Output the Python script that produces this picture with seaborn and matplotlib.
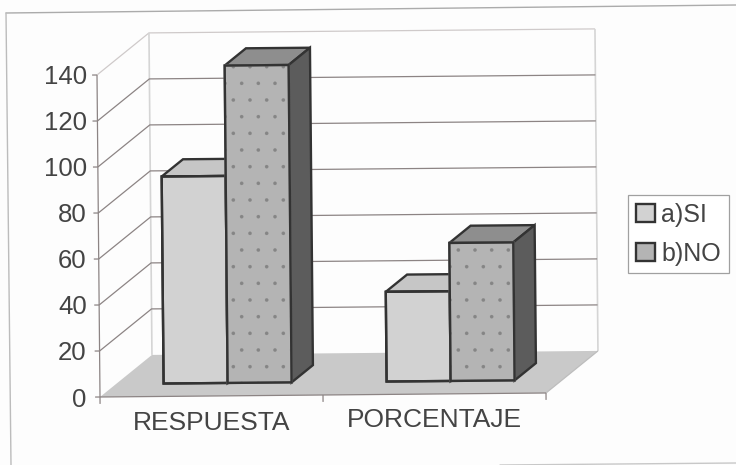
import matplotlib
matplotlib.use("Agg")
import matplotlib.pyplot as plt
import pandas as pd
import seaborn as sns
from matplotlib.lines import Line2D
from matplotlib.patches import Polygon
from matplotlib.transforms import Affine2D

# values
categories = ["RESPUESTA", "PORCENTAJE"]
series_names = ["a)SI", "b)NO"]
si_values = [90, 39]
no_values = [138, 60]
y_ticks = [0, 20, 40, 60, 80, 100, 120, 140]

front_colors = ["#d2d2d2", "#b4b4b4"]
top_colors = ["#c6c6c6", "#8e8e8e"]
side_color = "#5c5c5c"
bar_edge = "#333333"
line_grey = "#8c8484"
text_grey = "#444444"

W, H = 736, 465

sns.set_theme(style="white")
plt.rcParams["font.family"] = ["Liberation Sans", "DejaVu Sans"]
plt.rcParams["hatch.linewidth"] = 0.15

df = pd.DataFrame({
    "cat": categories * 2,
    "serie": [series_names[0]] * 2 + [series_names[1]] * 2,
    "valor": si_values + no_values,
})

fig = plt.figure(figsize=(W / 100, H / 100), dpi=100, facecolor="#fdfdfd")
ax = fig.add_axes([100 / W, 1 - 397 / H, 446 / W, 322 / H])
ax.patch.set_visible(False)

sns.barplot(data=df, x="cat", y="valor", hue="serie", palette=front_colors,
            width=0.574, gap=0, edgecolor=bar_edge, linewidth=1.7, ax=ax)
ax.set_xlim(-0.5, 1.5)
ax.set_ylim(0, 140)

# legend first, so its swatches stay plain when the bars get their dots
leg = ax.legend(loc="upper left", bbox_to_anchor=(628 / W, 1 - 195 / H),
                bbox_transform=fig.transFigure, borderaxespad=0, fancybox=False,
                framealpha=1, edgecolor="#a0a0a0", fontsize=18, labelcolor=text_grey,
                handlelength=0.76, handleheight=0.72, handletextpad=0.28, labelspacing=0.6,
                borderpad=0.3)
leg.set_zorder(20)
leg.get_frame().set_linewidth(0.9)

# fake 3D: depth moves a point back and up, tilt and rot are the crooked scan
DX, DY = 0.233, 18.3
TILT = 0.87
ROT = -0.0000961
BAR_D0, BAR_D1 = 0.31, 0.72


def project(x, y, d):
    return (x + DX * d + ROT * y, y + DY * d + TILT * (x + 0.5))


def face(points, color, z, edge="none", lw=0.0):
    ax.add_patch(Polygon([project(*p) for p in points], closed=True, facecolor=color,
                         edgecolor=edge, linewidth=lw, zorder=z, clip_on=False))


def line(points, z=2, color=line_grey, lw=0.9):
    pts = [project(*p) for p in points]
    ax.plot([p[0] for p in pts], [p[1] for p in pts], color=color, lw=lw,
            zorder=z, clip_on=False, solid_capstyle="butt")


x0, x1 = -0.5, 1.5
top = y_ticks[-1]

# walls and floor
face([(x0, 0, 0), (x1, 0, 0), (x1, 0, 1), (x0, 0, 1)], "#c9c9c9", 1)
line([(x0, top, 0), (x0, top, 1), (x1, top, 1)], color="#cfcaca")
line([(x0, 0, 1), (x0, top, 1)], color="#d5d5d5", lw=1.2)
line([(x1, 0, 1), (x1, top, 1)], color="#d5d5d5", lw=1.2)
line([(x1, 0, 1), (x1, 0, 0)], color="#bdbdbd")
for v in y_ticks[:-1]:
    if v > 0:
        line([(x0, v, 0), (x0, v, 1), (x1, v, 1)])
line([(x0, 0, 0), (x1, 0, 0)], z=3)
line([(x0, 0, 0), (x0, top, 0)], z=3)
for t in [-0.5, 0.5, 1.5]:
    line([(t, 0, 0), (t, -3, 0)], z=3)
for v in y_ticks:
    line([(x0, v, 0), (x0 - 0.022, v, 0)], z=3)

# bars: move the seaborn rectangles into their plane, then add top and side
shift = Affine2D.from_values(1, TILT, ROT, 1, DX * BAR_D0, DY * BAR_D0 + TILT * 0.5)
for serie, container in enumerate(ax.containers):
    for i, bar in enumerate(container):
        z = 5 + serie * 3 + i * 0.1
        xa, xb = bar.get_x(), bar.get_x() + bar.get_width()
        h = bar.get_height()
        bar.set_transform(shift + ax.transData)
        bar.set_clip_on(False)
        bar.set_zorder(z + 2)
        if serie == 1:
            # hatch takes the edge colour, so the dark outline goes on top
            bar.set_hatch(".")
            bar.set_edgecolor("#858585")
        face([(xa, h, BAR_D0), (xb, h, BAR_D0), (xb, h, BAR_D1), (xa, h, BAR_D1)],
             top_colors[serie], z, bar_edge, 1.7)
        face([(xb, 0, BAR_D0), (xb, h, BAR_D0), (xb, h, BAR_D1), (xb, 0, BAR_D1)],
             side_color, z + 1, bar_edge, 1.7)
        face([(xa, 0, BAR_D0), (xb, 0, BAR_D0), (xb, h, BAR_D0), (xa, h, BAR_D0)],
             "none", z + 2.05, bar_edge, 1.7)

# axes text
ax.set_xlabel("")
ax.set_ylabel("")
ax.set_yticks(y_ticks)
sns.despine(ax=ax, top=True, right=True, bottom=True, left=True)
ax.tick_params(axis="y", length=0, pad=9.5, labelsize=18.5, labelcolor=text_grey)
ax.tick_params(axis="x", length=0, pad=10, labelsize=19, labelcolor=text_grey)
ax.get_xticklabels()[1].set_y(3 / 322)

# outer frame of the chart, as crooked as the scan
frame_top = [(6, 13), (736, 5)]
frame_left = [(6, 13), (11, 465)]
frame_bottom = [(500, 465), (736, 463)]
for seg, col in [(frame_top, "#ababab"), (frame_left, "#bcbcbc"), (frame_bottom, "#c8c8c8")]:
    fig.add_artist(Line2D([p[0] / W for p in seg], [1 - p[1] / H for p in seg],
                          color=col, lw=1.0, transform=fig.transFigure))

fig.savefig("out.png", dpi=100, facecolor=fig.get_facecolor())
